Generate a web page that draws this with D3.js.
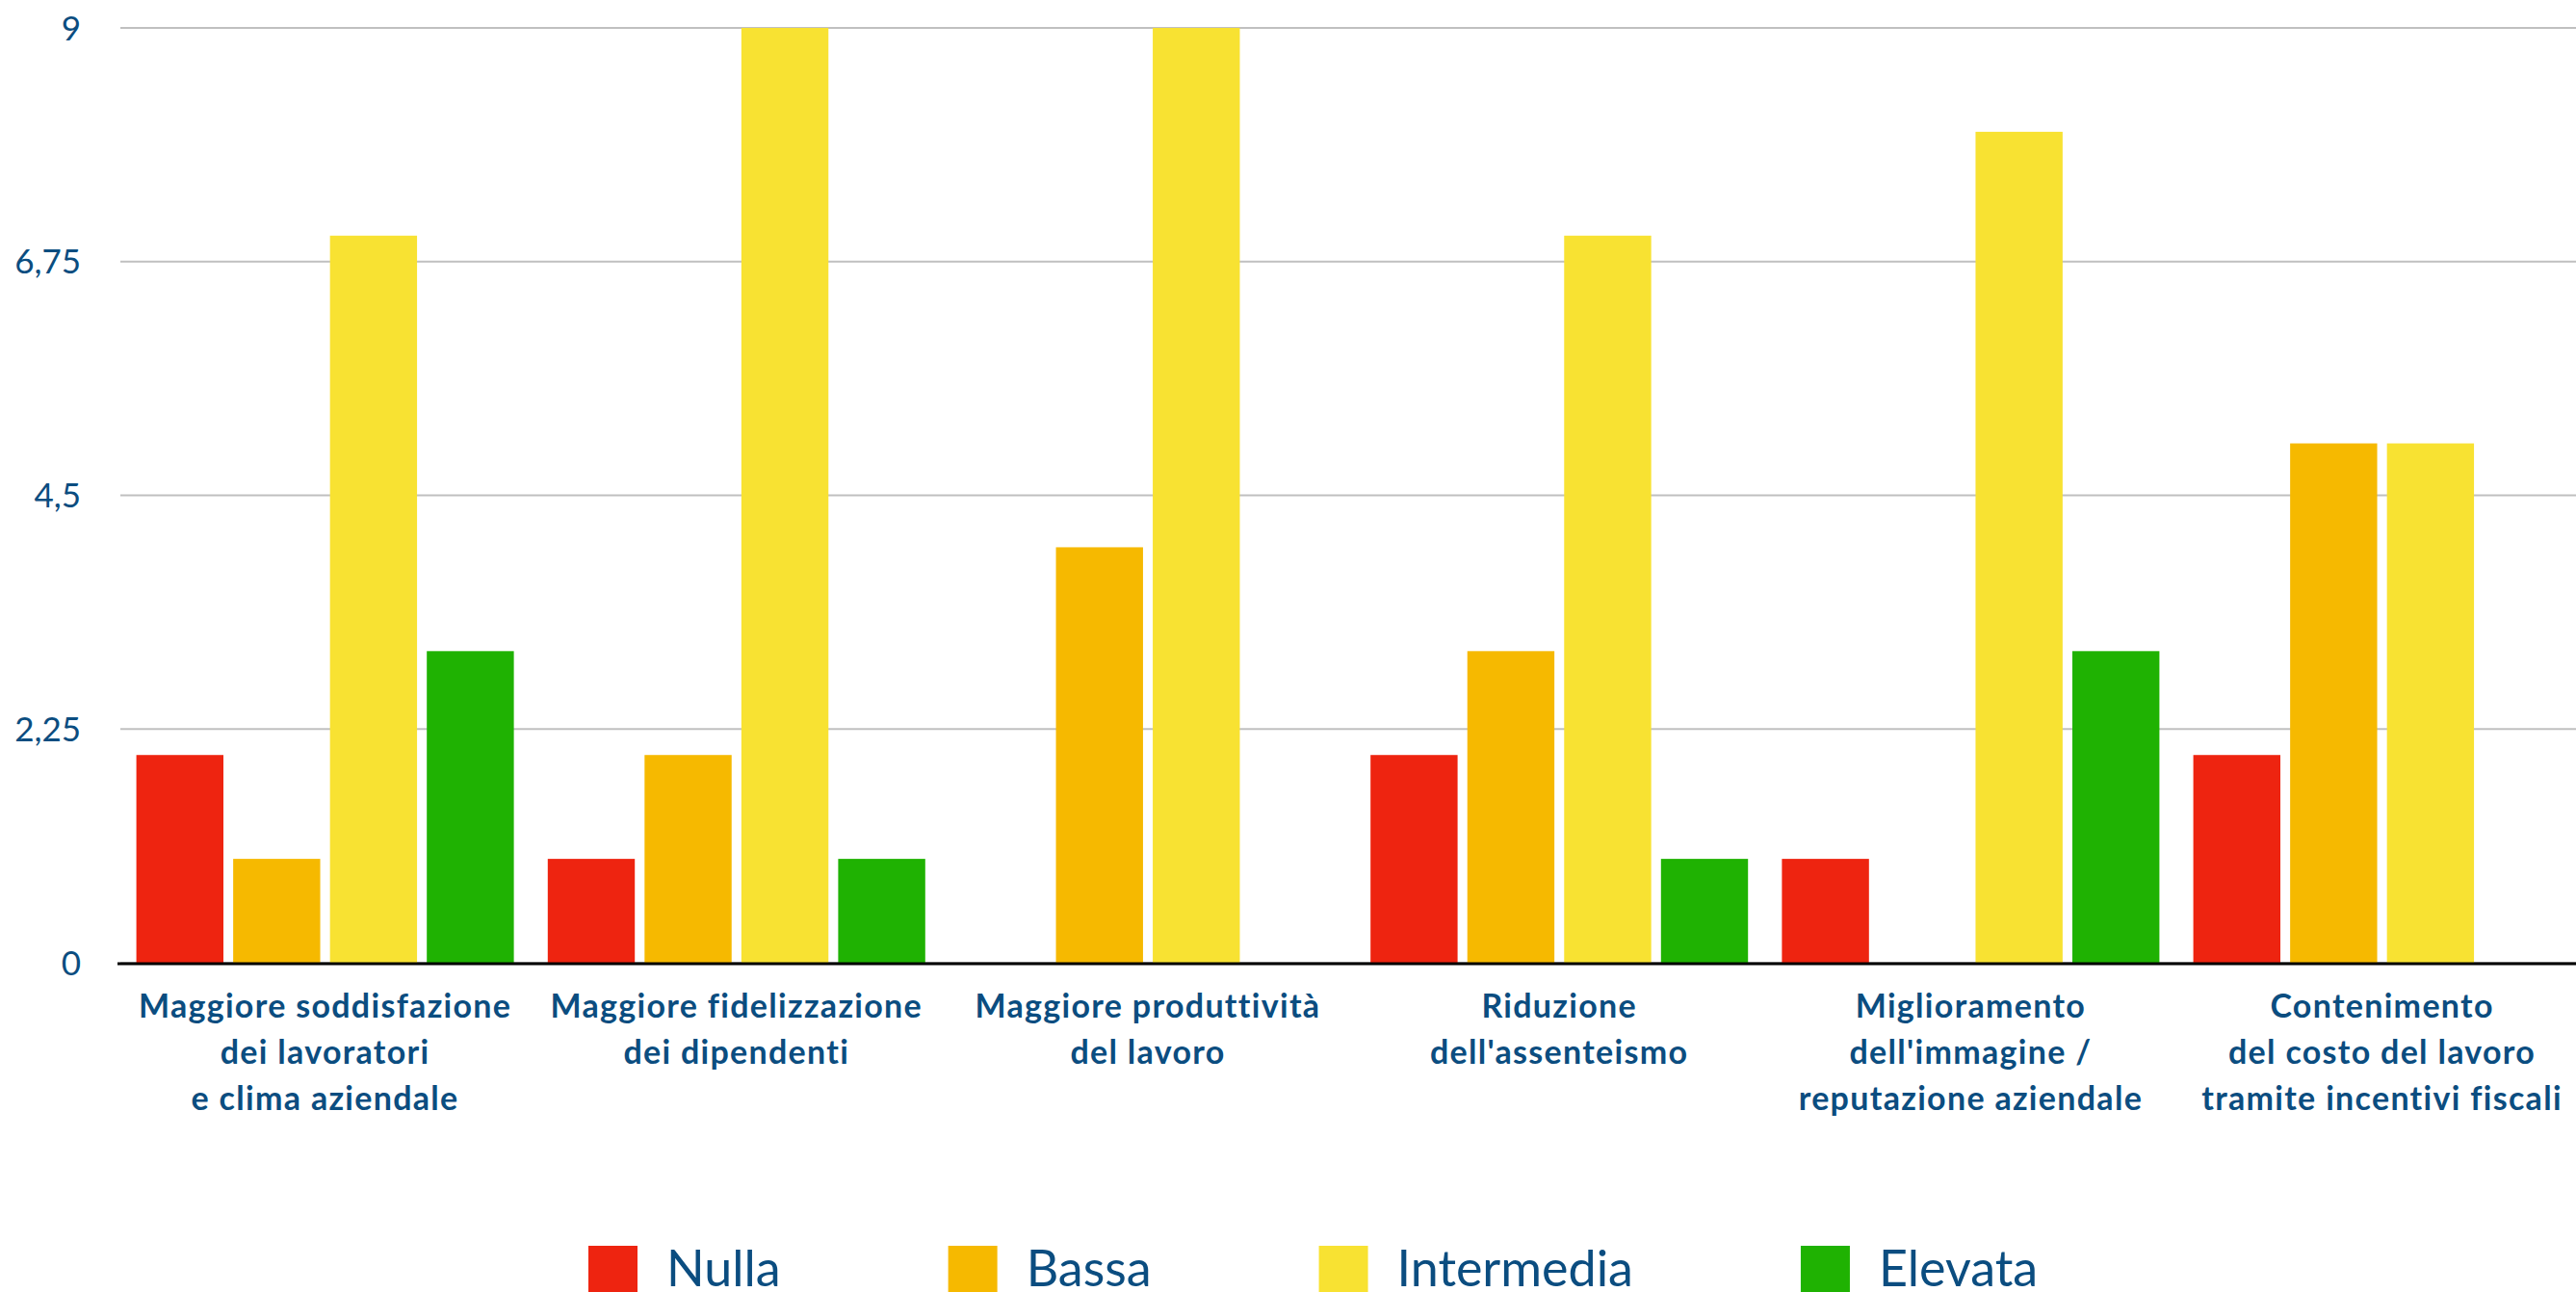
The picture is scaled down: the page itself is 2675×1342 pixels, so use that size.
<!DOCTYPE html>
<html><head><meta charset="utf-8">
<script src="https://cdn.jsdelivr.net/npm/d3@7"></script>
<style>html,body{margin:0;padding:0;background:#fff;overflow:hidden}
text{font-variant-ligatures:none;font-feature-settings:"liga" 0}</style>
</head><body>
<svg id="c" width="2675" height="1342"></svg>
<script>
const categories = [
  ["Maggiore soddisfazione","dei lavoratori","e clima aziendale"],
  ["Maggiore fidelizzazione","dei dipendenti"],
  ["Maggiore produttività","del lavoro"],
  ["Riduzione","dell'assenteismo"],
  ["Miglioramento","dell'immagine /","reputazione aziendale"],
  ["Contenimento","del costo del lavoro","tramite incentivi fiscali"]
];
const seriesNames = ["Nulla","Bassa","Intermedia","Elevata"];
const seriesColors = ["#ee2410","#f6b900","#f8e232","#1fb202"];
const nulla = [2,1,0,2,1,2];
const bassa = [1,2,4,3,0,5];
const intermedia = [7,9,9,7,8,5];
const elevata = [3,1,0,1,3,0];
const yTicks = [0,2.25,4.5,6.75,9];
const yTickLabels = ["0","2,25","4,5","6,75","9"];

const seriesValues = [nulla,bassa,intermedia,elevata];
const textColor = "#0b4d80";
const svg = d3.select("#c");
const left = 124, bandStep = 427.2, y0 = 1000, yTop = 29;
const gridLeft = 125, gridRight = 2675;

const x0 = d3.scaleBand().domain(d3.range(categories.length)).range([left,left+bandStep*categories.length]).paddingInner(0).paddingOuter(0);
const x1 = d3.scaleBand().domain(d3.range(seriesNames.length)).range([17.6, x0.bandwidth()-17.6]).paddingInner(0.1008).paddingOuter(0);
const y = d3.scaleLinear().domain([0,9]).range([y0,yTop]);

// gridlines
svg.append("g").selectAll("line").data(yTicks).join("line")
  .attr("x1",gridLeft).attr("x2",gridRight)
  .attr("y1",d=>y(d)).attr("y2",d=>y(d))
  .attr("stroke","#c0c0c0").attr("stroke-width",2);

// y tick labels
svg.append("g").selectAll("text").data(yTicks).join("text")
  .attr("x",84).attr("y",d=>y(d)).attr("dy","0.36em")
  .attr("text-anchor","end")
  .attr("font-family","Lato, sans-serif").attr("font-size",35)
  .attr("fill",textColor)
  .text((d,i)=>yTickLabels[i]);

// bars
const g = svg.append("g");
categories.forEach((c,ci)=>{
  seriesValues.forEach((vals,si)=>{
    const v = vals[ci];
    if (v<=0) return;
    g.append("rect")
      .attr("x", x0(ci)+x1(si))
      .attr("width", x1.bandwidth())
      .attr("y", y(v))
      .attr("height", y(0)-y(v))
      .attr("fill", seriesColors[si]);
  });
});

// baseline
svg.append("line").attr("x1",gridLeft-3).attr("x2",gridRight)
  .attr("y1",y0+1).attr("y2",y0+1)
  .attr("stroke","#000").attr("stroke-width",3);

// x labels
const xl = svg.append("g");
categories.forEach((lines,ci)=>{
  const t = xl.append("text")
    .attr("text-anchor","middle")
    .attr("font-family","Lato, sans-serif").attr("font-weight","bold")
    .attr("font-size",34).attr("letter-spacing",1.3).attr("fill",textColor);
  lines.forEach((ln,li)=>{
    t.append("tspan").attr("x", x0(ci)+x0.bandwidth()/2).attr("y",1057+li*48).text(ln);
  });
});

// legend
const lg = svg.append("g");
let lx = 611;
seriesNames.forEach((s,i)=>{
  lg.append("rect").attr("x",lx).attr("y",1294).attr("width",51).attr("height",51).attr("fill",seriesColors[i]);
  const t = lg.append("text").attr("x",lx+81).attr("y",1336)
    .attr("font-family","Lato, sans-serif").attr("font-size",52).attr("fill",textColor).text(s);
  lx = lx + 81 + t.node().getComputedTextLength() + 174;
});
</script>
</body></html>
